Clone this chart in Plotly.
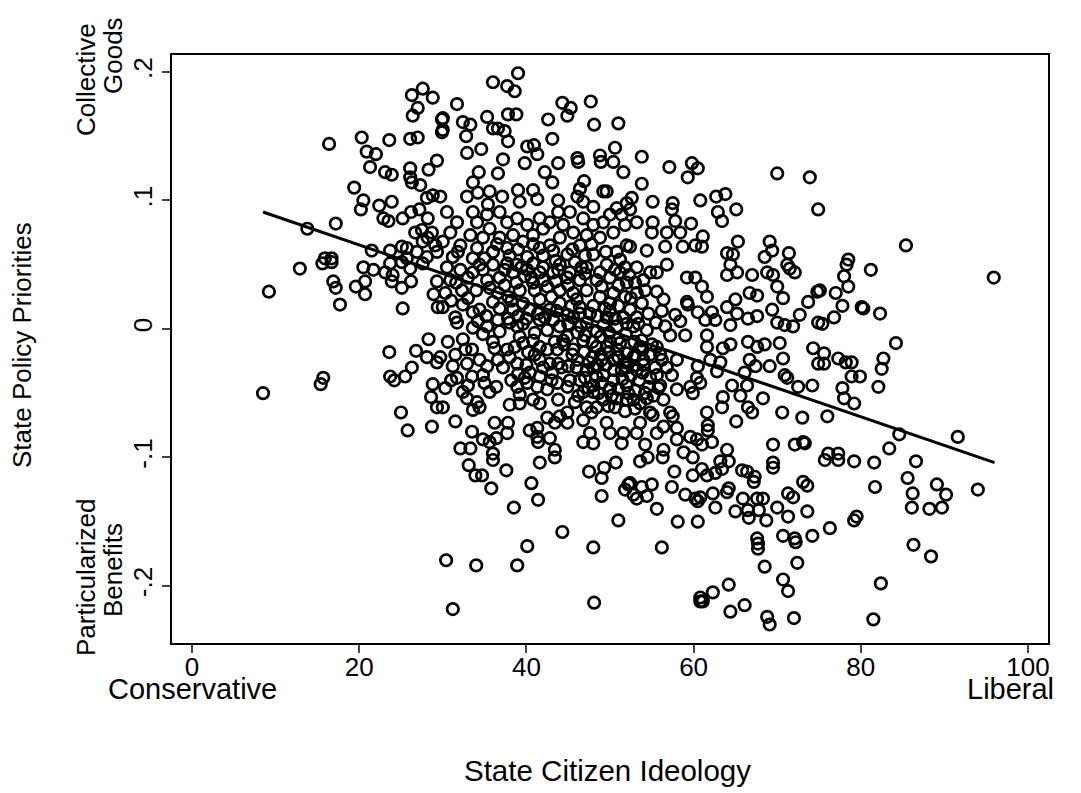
import plotly.graph_objects as go

# ---- data: (State Citizen Ideology, State Policy Priorities), grouped by region ----
upper_left = [(27.6,.187),(26.3,.182),(28.8,.180),(27.0,.172),(26.4,.166),(29.9,.163),(29.9,.153),(16.4,.144),(20.3,.149),(23.6,.147),
(26.1,.148),(27.0,.149),(20.9,.138),(22.0,.136),(21.3,.126),(23.1,.122),(23.9,.120),(26.1,.125),(28.3,.124),(29.3,.131),
(26.1,.118),(26.3,.114),(27.3,.112),(19.4,.110),(20.5,.100),(20.2,.093),(22.4,.096),(23.9,.099),(28.8,.104),(28.1,.102),
(26.2,.091),(27.2,.093),(22.9,.086),(23.5,.084),(25.2,.086),(28.2,.086),(17.2,.082),(13.8,.078),(21.5,.061),(23.7,.061),
(25.1,.064),(25.7,.063),(26.7,.075),(27.5,.077),(28.2,.071),(29.1,.065),(15.9,.055),(16.7,.055),(27.6,.068),(28.7,.075),
(29.3,.060),(26.9,.060),(28.1,.056),(25.7,.055)]

upper_middle = [(39.0,.199),(36.0,.192),(37.7,.189),(38.6,.185),(31.7,.175),(44.3,.176),(47.7,.177),(45.3,.172),(44.9,.166),(35.3,.165),
(37.8,.167),(38.8,.167),(30.0,.164),(30.0,.155),(32.4,.161),(33.3,.159),(36.0,.156),(36.6,.156),(37.4,.154),(42.6,.163),
(48.1,.159),(51.0,.160),(32.8,.150),(37.8,.146),(43.1,.148),(40.1,.142),(40.9,.143),(41.3,.136),(32.9,.137),(34.6,.140),
(50.6,.141),(37.2,.132),(36.6,.121),(39.8,.129),(43.8,.129),(46.1,.133),(46.2,.130),(48.8,.135),(48.9,.130),(50.4,.130),
(51.6,.122),(34.3,.122),(42.2,.122),(43.1,.114),(33.6,.114),(46.9,.115),(46.4,.109),(49.2,.107),(49.6,.107),(35.6,.107),
(39.0,.108),(40.8,.108),(41.3,.101),(37.1,.103),(34.2,.106),(32.9,.103),(46.1,.103),(46.8,.099),(43.8,.100),(48.0,.095),
(50.8,.094),(52.0,.098),(35.4,.097),(39.2,.099),(29.7,.103)]

mid_band = [(30.5,.091),(31.7,.083),(30.9,.075),(30.0,.068),(32.1,.065),(33.6,.091),(34.1,.083),(35.3,.089),(36.8,.091),(37.7,.083),
(38.9,.086),(40.1,.081),(35.6,.078),(33.3,.073),(34.8,.071),(36.8,.071),(38.4,.073),(39.6,.068),(40.8,.073),(42.0,.078),
(41.6,.086),(42.8,.083),(43.8,.091),(44.4,.081),(45.2,.091),(45.6,.075),(46.8,.086),(48.0,.081),(49.2,.083),(50.0,.089),
(51.4,.089),(51.8,.081),(50.4,.075),(48.8,.071),(47.2,.073),(46.4,.065),(44.0,.071),(42.8,.065),(41.6,.063),(37.7,.063),
(36.0,.060),(34.1,.063),(31.2,.056),(33.6,.055),(40.1,.056),(44.9,.058),(48.0,.058),(50.8,.060),(52.0,.065)]

upper_right = [(53.8,.134),(57.1,.126),(59.8,.129),(60.5,.125),(59.3,.118),(53.8,.113),(70.0,.121),(73.9,.118),(74.9,.093),(52.6,.102),
(55.1,.099),(57.5,.098),(57.4,.093),(60.8,.100),(62.7,.103),(63.8,.105),(62.9,.091),(63.4,.084),(65.1,.093),(52.4,.093),
(53.2,.083),(55.1,.083),(57.8,.084),(59.7,.082),(55.0,.075),(56.8,.075),(58.4,.075),(61.1,.072),(65.3,.068),(69.1,.068),
(69.4,.061),(71.4,.059),(68.5,.056),(64.0,.059),(64.7,.058),(54.4,.061),(56.6,.064),(58.7,.064),(60.2,.065),(61.0,.064),
(52.4,.064),(85.4,.065),(78.5,.054)]

right_middle = [(78.3,.050),(81.2,.046),(95.9,.040),(78.0,.041),(78.5,.033),(75.1,.030),(77.0,.028),(77.8,.018),(80.1,.017),(80.3,.016),
(82.3,.012),(76.8,.009),(75.4,.004),(84.2,-.011),(75.6,-.019),(75.6,-.027),(77.3,-.023),(78.2,-.026),(78.9,-.026),(82.7,-.023),
(82.5,-.031),(78.9,-.037),(79.9,-.037),(77.8,-.046),(82.1,-.045),(78.0,-.054),(79.2,-.058),(76.0,-.068),(84.6,-.082),(91.6,-.084),
(83.4,-.093),(76.1,-.097),(77.3,-.097)]

lower_right = [(75.7,-.102),(77.3,-.102),(79.2,-.103),(81.6,-.104),(86.6,-.103),(85.6,-.116),(81.7,-.123),(89.1,-.121),(90.2,-.129),(86.2,-.128),
(94.0,-.125),(86.1,-.139),(88.2,-.140),(89.7,-.139),(79.5,-.146),(79.2,-.149),(76.3,-.155),(86.3,-.168),(88.4,-.177),(82.4,-.198),
(81.5,-.226)]

lower_center = [(53.6,-.103),(54.5,-.100),(56.3,-.100),(59.9,-.100),(63.2,-.103),(64.2,-.103),(69.5,-.104),(69.5,-.108),(57.7,-.111),(59.9,-.114),
(61.0,-.109),(61.6,-.114),(62.6,-.112),(63.4,-.109),(65.8,-.110),(66.4,-.111),(67.3,-.115),(67.2,-.119),(73.1,-.119),(73.6,-.122),
(52.4,-.120),(53.8,-.123),(55.0,-.121),(52.8,-.129),(53.2,-.132),(54.4,-.130),(57.4,-.123),(59.0,-.129),(60.2,-.132),(60.5,-.134),
(60.8,-.131),(62.3,-.128),(62.6,-.139),(64.0,-.127),(64.2,-.124),(65.9,-.132),(67.6,-.132),(68.3,-.132),(65.0,-.142),(66.5,-.141),
(66.6,-.147),(67.8,-.141),(68.7,-.149),(70.0,-.139),(71.3,-.146),(71.9,-.131),(71.3,-.128),(73.6,-.142),(55.6,-.140),(58.1,-.150),
(60.5,-.150),(56.2,-.170),(67.6,-.163),(67.7,-.167),(67.7,-.171),(70.7,-.161),(72.1,-.163),(72.2,-.166),(74.2,-.161),(68.5,-.185),
(72.4,-.182),(70.7,-.195),(71.3,-.204),(64.2,-.199),(62.3,-.205),(60.8,-.209),(60.8,-.212),(61.1,-.212),(66.1,-.215),(64.4,-.220),
(68.8,-.224),(69.1,-.230),(72.0,-.225)]

lower_left = [(33.1,-.106),(33.9,-.114),(34.7,-.114),(35.8,-.124),(36.0,-.102),(37.6,-.110),(41.6,-.104),(43.4,-.100),(40.6,-.120),(41.4,-.133),
(38.5,-.139),(47.5,-.111),(49.3,-.108),(49.0,-.116),(50.7,-.104),(49.0,-.130),(51.8,-.125),(52.2,-.121),(51.0,-.149),(44.3,-.158),
(40.1,-.169),(48.0,-.170),(30.4,-.180),(34.0,-.184),(38.9,-.184),(31.2,-.218),(48.1,-.213)]

left_middle = [(12.9,.047),(9.2,.029),(15.6,.051),(16.7,.052),(16.9,.037),(17.2,.032),(17.7,.019),(20.5,.048),(21.7,.046),(19.6,.033),
(20.7,.037),(20.7,.027),(23.1,.044),(24.0,.042),(23.9,.037),(25.1,.032),(26.2,.037),(25.2,.016),(28.9,.027),(29.4,.017),
(29.3,.037),(26.1,.047),(23.7,.051),(25.1,.052),(27.6,.051),(28.3,-.008),(23.6,-.018),(26.8,-.017),(28.1,-.022),(29.3,-.026),
(26.3,-.030),(25.5,-.037),(23.7,-.037),(24.2,-.040),(15.7,-.038),(15.4,-.043),(8.5,-.050),(28.8,-.043),(28.6,-.053),(29.3,-.061),
(25.0,-.065),(25.8,-.079),(28.7,-.076)]

center_left = [(30.3,.028),(30.0,.017),(32.3,.030),(32.4,.019),(33.6,.013),(34.4,.015),(31.5,.009),(31.7,.005),(33.6,.001),(35.3,.002),
(36.6,.007),(36.0,.021),(36.6,.028),(38.0,.005),(38.9,.002),(29.7,-.022),(31.5,-.020),(32.7,-.016),(33.5,-.016),(36.0,-.010),
(36.2,-.015),(31.2,-.029),(32.9,-.027),(34.4,-.024),(35.3,-.029),(36.6,-.024),(31.7,-.038),(33.5,-.037),(34.8,-.036),(35.6,-.049),
(36.4,-.045),(30.3,-.046),(32.4,-.049),(32.9,-.054),(34.1,-.057),(34.4,-.061),(33.6,-.063),(30.0,-.061),(31.5,-.072),(33.5,-.080),
(34.8,-.086),(35.6,-.088),(36.4,-.085),(36.2,-.073),(37.8,-.073),(37.7,-.081),(32.1,-.093),(33.3,-.093),(36.0,-.097),(38.0,-.059),
(39.2,-.058),(39.2,-.051),(38.9,-.045),(40.1,-.042),(40.4,-.034),(39.8,-.038),(40.8,-.055),(41.6,-.058),(40.4,-.079),(41.3,-.084),
(41.4,-.088),(42.5,-.069),(43.4,-.073),(44.0,-.068),(43.8,-.055),(44.9,-.065),(42.8,-.085),(43.4,-.094),(44.9,-.073),(45.8,-.057),
(46.8,-.049),(47.2,-.061),(46.8,-.071),(48.4,-.061),(49.2,-.055),(48.0,-.049),(48.4,-.037),(47.8,-.065),(49.6,-.073),(50.0,-.081),
(47.6,-.081),(46.8,-.088),(48.0,-.089),(51.6,-.081),(51.4,-.089),(50.6,-.061),(52.0,-.055),(41.3,-.077),(41.6,-.037),(43.1,-.034),
(43.8,-.027),(45.0,-.029),(46.1,-.024),(43.7,-.016),(42.5,-.016),(44.4,-.009),(40.2,-.018),(39.6,-.011),(38.6,-.014),(37.7,-.016),
(38.0,-.022),(38.9,-.027)]

center_upper = [(46.4,.017),(46.4,.012),(45.6,.009),(47.2,.005),(48.4,-.002),(49.2,.003),(49.6,.009),(50.8,.002),(51.6,.009),(48.4,-.014),
(49.6,-.014),(51.2,-.011),(52.0,-.019),(50.4,-.024),(51.4,-.032),(50.4,-.040),(49.2,-.036),(47.2,-.032),(46.4,-.040),(40.4,.015),
(41.6,.007),(42.5,-.001),(43.2,.007),(44.0,.002),(44.9,.011),(42.8,.015),(41.6,.023),(39.6,.020),(38.4,.015),(37.8,.025),
(39.2,.030),(40.8,.036),(42.5,.033),(44.0,.030),(45.6,.028),(47.2,.030),(48.8,.025),(50.4,.028),(51.8,.025),(48.4,.038),
(50.0,.040),(51.2,.044),(52.0,.036),(46.4,.038),(44.9,.040),(43.2,.044),(41.6,.044),(40.1,.046),(38.4,.044),(36.8,.040),
(35.3,.038),(33.6,.044),(32.1,.046),(30.5,.048),(30.9,.038),(34.4,.050),(37.7,.051),(40.8,.051),(44.0,.050),(47.2,.048),
(49.6,.050),(51.8,.048),(39.2,-.006),(40.8,-.009),(41.6,-.024),(42.8,-.027),(45.6,-.016),(46.8,-.009),(46.1,-.003),(44.9,-.006),
(41.3,-.045),(42.5,-.047),(43.7,-.042),(44.9,-.045),(41.6,-.014),(43.4,-.010)]

center_right = [(56.8,.050),(64.4,.050),(64.0,.042),(65.2,.044),(67.0,.042),(68.8,.044),(69.5,.042),(71.5,.047),(72.1,.044),(71.2,.050),
(74.8,.029),(73.7,.021),(70.0,.033),(70.7,.024),(67.6,.026),(66.7,.028),(61.6,.025),(61.0,.033),(59.2,.040),(60.2,.040),
(55.6,.029),(54.8,.044),(54.0,.038),(59.2,.021),(59.3,.019),(65.0,.023),(64.0,.017),(62.2,.013),(60.5,.013),(57.8,.011),
(58.4,.006),(56.6,.002),(61.4,.007),(62.6,.007),(64.4,.003),(65.2,.012),(66.5,.008),(67.6,.010),(69.4,.015),(70.0,.005),
(70.9,.003),(71.9,.002),(72.7,.011),(74.9,.005),(57.2,-.005),(59.0,-.005),(61.6,-.005),(61.6,-.014),(63.5,-.015),(64.4,-.012),
(66.5,-.010),(67.6,-.014),(68.5,-.012),(70.3,-.011),(74.3,-.015),(70.7,-.023),(74.9,-.027),(69.1,-.029),(66.7,-.024),(67.4,-.029),
(62.0,-.024),(63.2,-.026),(60.5,-.029),(58.0,-.024),(56.2,-.024),(55.6,-.014),(53.8,-.009),(62.8,-.033),(66.1,-.034),(70.9,-.036),
(71.2,-.038),(72.5,-.045),(74.2,-.044),(64.6,-.044),(66.4,-.044),(60.4,-.038),(60.8,-.042),(59.6,-.045),(59.9,-.050),(57.4,-.036),
(58.0,-.047),(56.0,-.044),(54.8,-.038),(56.4,-.055),(52.8,-.055),(54.4,-.054),(63.5,-.053),(65.6,-.052),(68.3,-.054),(63.4,-.061),
(66.5,-.061),(67.0,-.065),(70.6,-.065),(73.0,-.069),(61.6,-.065),(65.1,-.072),(61.7,-.075),(61.7,-.079),(54.8,-.065),(55.1,-.067),
(57.2,-.065),(57.5,-.068),(58.0,-.077),(56.4,-.076),(53.6,-.073),(53.2,-.081),(55.6,-.081),(58.0,-.086),(59.6,-.084),(60.4,-.086),
(61.0,-.090),(62.2,-.088),(64.0,-.094),(69.5,-.090),(72.1,-.090),(73.1,-.088),(73.3,-.089),(54.2,-.090),(56.4,-.094),(58.8,-.096),
(52.4,.015),(53.2,.009),(52.8,.002),(54.4,-.001),(53.6,-.014),(52.8,-.022),(54.0,-.024),(53.2,-.032),(56.4,.023),(53.2,.028),
(55.6,.044),(53.2,.048)]

dense_core = [(47.0,-.005),(47.9,-.010),(48.9,-.006),(49.9,-.003),(50.9,-.008),(51.9,-.004),(52.9,-.010),(53.9,-.016),(54.8,-.020),(55.4,-.030),
(46.9,-.018),(47.9,-.022),(48.9,-.020),(49.9,-.018),(50.9,-.016),(51.9,-.026),(52.9,-.029),(53.9,-.034),(54.6,-.045),(55.6,-.036),
(47.5,-.026),(48.5,-.028),(49.5,-.028),(50.5,-.032),(51.5,-.039),(52.5,-.036),(53.5,-.040),(54.2,-.050),(55.2,-.052),(56.8,-.030),
(48.0,-.044),(49.0,-.042),(50.0,-.046),(51.0,-.047),(52.0,-.044),(53.0,-.048),(50.8,-.054),(49.8,-.060),(51.8,-.064),(53.0,-.062),
(38.8,.036),(39.8,.041),(41.0,.030),(42.0,.038),(43.0,.025),(44.0,.020),(45.0,.034),(46.0,.023),(47.0,.043),(48.0,.018),
(49.0,.033),(50.0,.020),(51.0,.034),(52.3,.042),(45.2,.044),(43.5,.037),(42.2,.009),(40.0,.008),(39.0,.010),(41.0,-.003),
(45.0,.004),(46.5,.002),(48.5,.010),(50.0,.014),(51.0,.018),(52.5,.024),(53.8,.020),(54.6,.012),(55.5,.005),(56.2,.014),
(31.8,.060),(35.0,.055),(38.0,.057),(39.0,.062),(42.0,.057),(43.2,.061),(45.5,.062),(47.0,.057),(49.5,.060),(51.2,.054),
(36.5,.066),(40.8,.066),(47.8,.066),(43.5,.053),(38.8,.050)]

dense_fill = [(44.5,-.012),(45.5,-.020),(46.0,-.030),(47.0,-.038),(48.0,-.030),(49.0,-.024),(50.0,-.010),(51.0,-.022),(52.0,-.030),(53.0,-.020),
(54.0,-.028),(55.0,-.012),(56.0,-.020),(55.8,-.046),(53.6,-.058),(52.2,-.050),(50.2,-.052),(48.6,-.050),(47.4,-.046),(46.2,-.052),
(45.2,-.040),(44.2,-.030),(43.0,-.040),(42.0,-.030),(41.0,-.020),(40.0,-.028),(39.0,-.035),(38.2,-.040),(37.2,-.030),(36.8,-.002),
(37.8,.008),(39.6,.004),(41.4,.012),(43.6,.014),(45.4,.018),(47.6,.012),(49.4,.016),(50.6,.008),(52.0,.004),(53.4,.004),
(54.2,.030),(53.0,.036),(50.6,.046),(48.8,.044),(46.6,.048),(45.8,.052),(43.8,.046),(42.0,.048),(40.6,.040),(39.4,.048),
(37.4,.046),(36.0,.050),(34.8,.046),(33.0,.040),(31.6,.036),(34.0,.030),(35.6,.032),(37.4,.034),(38.2,.022),(36.8,.016),
(35.2,.010),(34.2,.006),(33.0,.024),(31.0,.022),(34.8,-.004),(32.4,-.008),(30.6,-.010),(31.0,-.040),(33.0,-.044),(35.0,-.042)]

regions = [upper_left, upper_middle, mid_band, upper_right, right_middle, lower_right,
           lower_center, lower_left, left_middle, center_left, center_upper, center_right,
           dense_core, dense_fill]

# fitted line end points
fit_ideology = [8.5, 96.0]
fit_priority = [0.091, -0.104]

x_ticks = [0, 20, 40, 60, 80, 100]
y_ticks = [-0.2, -0.1, 0, 0.1, 0.2]
y_tick_text = ["-.2", "-.1", "0", ".1", ".2"]

ideology = [p[0] for r in regions for p in r]
priority = [p[1] for r in regions for p in r]

FONT = "Liberation Sans, Arial, Helvetica, sans-serif"

fig = go.Figure()
fig.add_trace(go.Scatter(
    x=ideology, y=priority, mode="markers",
    marker=dict(symbol="circle-open", size=11.5, color="black", line=dict(width=2.7, color="black")),
    showlegend=False, hoverinfo="skip"))
fig.add_trace(go.Scatter(
    x=fit_ideology, y=fit_priority, mode="lines",
    line=dict(color="black", width=3), showlegend=False, hoverinfo="skip"))

# page has an 8px body margin; plot area on the page: left 172, right 1048, top 55, bottom 643
OFF = 8
L, R, T, B = 172, 1048, 55, 643
W, H = 1081 - OFF, 793 - OFF

def px(xp):
    return (xp - L) / (R - L)

def py(yp):
    return (B - yp) / (B - T)

fig.update_layout(
    width=W, height=H,
    margin=dict(l=L - OFF, r=W - (R - OFF), t=T - OFF, b=H - (B - OFF)),
    paper_bgcolor="white", plot_bgcolor="white",
    font=dict(family=FONT, size=26, color="black"),
    xaxis=dict(range=[-2.39, 102.39], tickvals=x_ticks, ticks="outside", ticklen=8, tickwidth=1.5,
               ticklabelstandoff=-8,
               showline=True, linewidth=1.6, linecolor="black", mirror=True, showgrid=False, zeroline=False,
               tickfont=dict(size=26, family=FONT)),
    yaxis=dict(range=[-0.2444, 0.2132], tickvals=y_ticks, ticktext=y_tick_text, tickangle=-90,
               ticks="outside", ticklen=8, tickwidth=1.5,
               showline=True, linewidth=1.6, linecolor="black", mirror=True, showgrid=False, zeroline=False,
               tickfont=dict(size=26, family=FONT)),
)

ann = [
    ("Collective", 86, 80, -90, 26),
    ("Goods", 113, 56, -90, 26),
    ("Particularized", 86, 577, -90, 26),
    ("Benefits", 113, 570, -90, 26),
    ("State Policy Priorities", 22, 345, -90, 26),
    ("Conservative", 192, 689, 0, 29),
    ("Liberal", 1010, 689, 0, 29),
    ("State Citizen Ideology", 607, 770, 0, 29.5),
]
for text, xp, yp, ang, fs in ann:
    fig.add_annotation(text=text, xref="paper", yref="paper", x=px(xp), y=py(yp),
                       xanchor="center", yanchor="middle", showarrow=False, textangle=ang,
                       font=dict(family=FONT, size=fs, color="black"))

fig.write_html("out.html")
